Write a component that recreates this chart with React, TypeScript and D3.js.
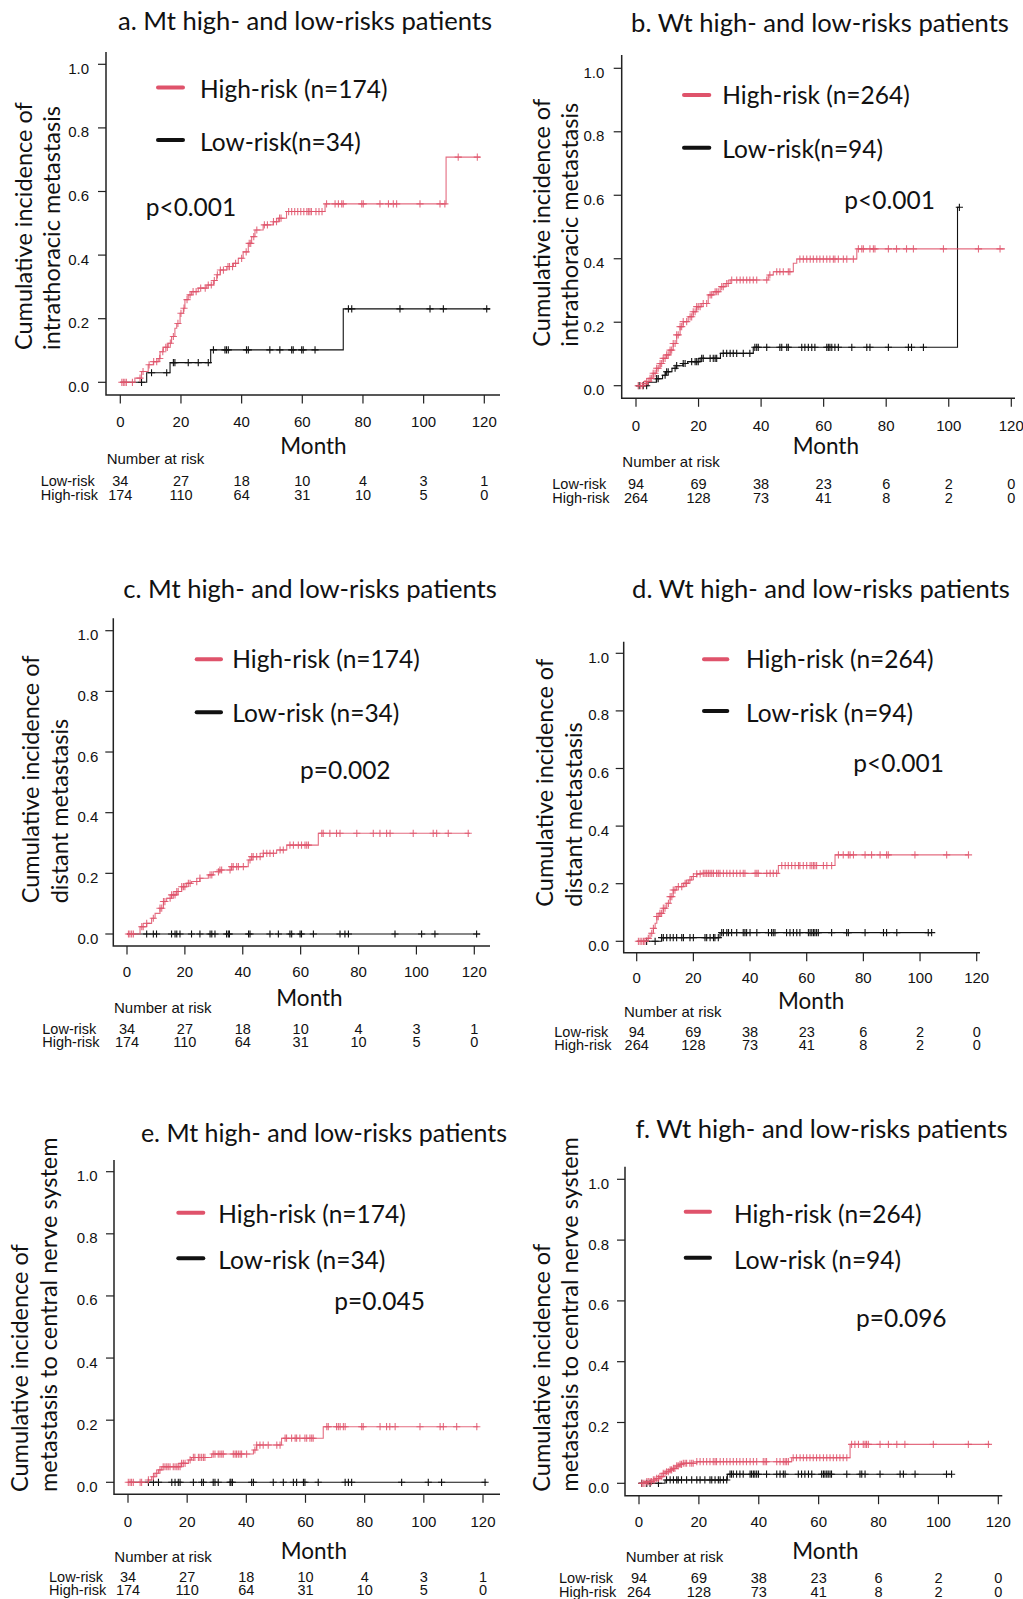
import React from 'react';
import * as d3 from 'd3';

type Step = [number, number];

const RED = '#DF536B';
const xTicks = [0, 20, 40, 60, 80, 100, 120];
const yTicks = [0, 0.2, 0.4, 0.6, 0.8, 1.0];
const riskTimes = [0, 20, 40, 60, 80, 100, 120];
const mtLowAtRisk = [34, 27, 18, 10, 4, 3, 1];
const mtHighAtRisk = [174, 110, 64, 31, 10, 5, 0];
const wtLowAtRisk = [94, 69, 38, 23, 6, 2, 0];
const wtHighAtRisk = [264, 128, 73, 41, 8, 2, 0];

// ---------- Panel a: Mt, intrathoracic ----------
const aHighSteps: Step[] = [[0, 0], [4.8, 0.013], [7.0, 0.034], [9.2, 0.055], [10.9, 0.065], [12.5, 0.075], [13.1, 0.096], [14.2, 0.11], [15.8, 0.123], [16.9, 0.144], [18.0, 0.17], [18.6, 0.185], [19.7, 0.217], [20.8, 0.233], [21.3, 0.26], [22.4, 0.275], [23.5, 0.285], [25.7, 0.296], [28.5, 0.306], [30.7, 0.32], [31.8, 0.338], [32.9, 0.353], [35.1, 0.364], [37.3, 0.374], [38.9, 0.39], [40.5, 0.41], [42.2, 0.437], [43.3, 0.458], [44.4, 0.479], [47.1, 0.495], [50.4, 0.505], [52.1, 0.516], [54.8, 0.537], [67.5, 0.561], [107.4, 0.708]];
const aHighEnd = 118.6;
const aHighCensor = [0.5, 1, 1.5, 2, 4, 6.5, 7.5, 9.5, 11, 12, 13, 14, 15, 15.5, 16.5, 17.5, 19, 20, 21, 22, 23, 24, 25, 26.5, 28, 29, 30, 31, 32, 33, 34, 35.5, 36, 37, 38, 40, 41.5, 42.5, 43, 44, 45, 47.5, 48.5, 50.5, 51.5, 52.5, 53, 55.5, 56.5, 57.5, 58.5, 59.5, 60.5, 61.5, 62, 62.5, 63, 64.5, 65.5, 66.5, 68, 70.8, 71.9, 73, 73.5, 79.6, 80.1, 85.6, 88.4, 90, 91.1, 98.8, 105.4, 107, 111.4, 117.7];
const aLowSteps: Step[] = [[0, 0], [8.7, 0.030], [16.4, 0.062], [29.8, 0.102], [73.5, 0.231]];
const aLowEnd = 121.9;
const aLowCensor = [7.0, 10.3, 15.3, 17.5, 18, 22.4, 25.7, 29, 30.7, 34.5, 35, 35.6, 41.6, 42.2, 49.3, 52.6, 56.5, 57, 59.8, 60.3, 64.2, 75.2, 76.3, 92.2, 102.1, 106.5, 120.8];

// ---------- Panel b: Wt, intrathoracic ----------
const bHighSteps: Step[] = [[0, 0], [2.3, 0.007], [3.4, 0.013], [4.5, 0.023], [5.5, 0.039], [6.6, 0.055], [7.7, 0.07], [8.7, 0.086], [9.8, 0.097], [10.9, 0.112], [11.9, 0.133], [13.0, 0.16], [14.1, 0.186], [15.1, 0.202], [16.7, 0.217], [18.3, 0.233], [19.4, 0.249], [21.0, 0.259], [23.1, 0.286], [24.7, 0.296], [26.9, 0.312], [28.5, 0.322], [30.1, 0.333], [42.3, 0.349], [43.9, 0.359], [50.3, 0.386], [51.4, 0.399], [70.6, 0.431]];
const bHighEnd = 118;
const bHighCensor = [0.7, 1.5, 2.1, 2.9, 3.4, 3.9, 4.5, 5.0, 5.5, 6.1, 6.6, 7.1, 7.7, 8.2, 8.7, 9.3, 9.8, 10.3, 10.9, 11.4, 11.9, 12.5, 13.0, 13.5, 14.1, 14.6, 15.1, 16.2, 17.3, 17.8, 18.3, 18.9, 19.4, 19.9, 20.5, 21.5, 22.6, 23.7, 24.2, 25.3, 25.8, 26.3, 27.4, 27.9, 29.0, 29.5, 30.6, 32.2, 33.3, 34.3, 35.4, 36.4, 37.5, 38.6, 41.8, 42.8, 45.0, 46.0, 47.1, 48.7, 49.2, 52.4, 53.5, 54.6, 55.7, 56.7, 57.8, 58.8, 59.9, 61.0, 62.0, 63.1, 63.6, 64.7, 66.3, 67.4, 69.5, 71.1, 72.2, 72.7, 74.8, 75.9, 76.4, 80.7, 83.3, 86.5, 88.7, 98.3, 109.5, 116.4];
const bLowSteps: Step[] = [[0, 0], [3.9, 0.011], [6.5, 0.022], [8.5, 0.033], [9.5, 0.044], [11.5, 0.055], [13, 0.063], [15, 0.07], [16.5, 0.076], [20.5, 0.086], [27, 0.102], [37.5, 0.121], [102.8, 0.562]];
const bLowEnd = 103.4;
const bLowCensor = [1.0, 2.3, 3.4, 6.6, 7.1, 9.3, 9.8, 10.3, 12.5, 13.0, 15.1, 15.7, 17.8, 18.9, 19.4, 19.9, 21.0, 21.5, 23.7, 24.7, 25.3, 25.8, 27.9, 29.0, 30.1, 31.1, 32.2, 34.3, 36.4, 38.0, 38.6, 39.1, 41.8, 46.0, 46.6, 48.2, 48.7, 53.0, 54.0, 55.1, 56.2, 57.2, 61.0, 61.5, 62.0, 62.6, 63.6, 64.7, 69.0, 73.8, 74.8, 80.7, 87.1, 88.1, 91.9, 103.4];

// ---------- Panel c: Mt, distant ----------
const cHighSteps: Step[] = [[0, 0], [4.5, 0.024], [6.8, 0.035], [8.5, 0.052], [9.7, 0.068], [11.4, 0.085], [12.6, 0.107], [13.7, 0.118], [15.4, 0.129], [17.2, 0.14], [18.9, 0.156], [20.6, 0.167], [22.3, 0.173], [25.2, 0.184], [28.1, 0.195], [29.8, 0.205], [32.1, 0.211], [36.1, 0.222], [41.9, 0.244], [43.1, 0.255], [47.1, 0.266], [51.7, 0.277], [55.2, 0.293], [66.1, 0.332]];
const cHighEnd = 118.5;
const cHighCensor = [0.5, 1.0, 1.6, 2.2, 5.1, 5.6, 6.8, 9.1, 11.4, 12.0, 12.6, 13.1, 14.9, 15.4, 16.0, 16.6, 17.2, 17.7, 18.9, 19.5, 20.0, 21.2, 21.8, 24.1, 25.2, 28.7, 29.3, 31.6, 32.1, 32.7, 35.6, 36.2, 36.7, 37.9, 38.5, 40.2, 42.5, 43.1, 43.6, 44.8, 46.0, 47.1, 48.3, 49.4, 50.6, 52.9, 54.0, 56.3, 57.5, 59.2, 60.3, 61.5, 62.1, 62.7, 67.3, 67.8, 70.1, 72.4, 73.6, 79.4, 85.1, 87.4, 89.7, 90.9, 98.9, 105.8, 107.0, 111.0, 117.9];
const cLowSteps: Step[] = [[0, 0]];
const cLowEnd = 122;
const cLowCensor = [6.8, 9.1, 10.2, 15.4, 16.6, 17.2, 18.3, 22.3, 25.2, 28.7, 29.3, 30.4, 34.4, 35.0, 35.4, 42.0, 42.5, 49.4, 52.3, 56.3, 56.9, 59.8, 60.3, 64.4, 73.6, 75.3, 76.5, 92.6, 101.8, 106.4, 120.8];

// ---------- Panel d: Wt, distant ----------
const dHighSteps: Step[] = [[0, 0], [3.5, 0.01], [4.7, 0.028], [5.9, 0.045], [6.5, 0.0625], [7.1, 0.086], [8.2, 0.097], [9.4, 0.115], [10.6, 0.132], [11.8, 0.155], [12.9, 0.178], [14.1, 0.19], [16.5, 0.201], [18.2, 0.213], [19.4, 0.225], [21.2, 0.234], [22.9, 0.236], [50, 0.263], [70, 0.3]];
const dHighEnd = 117.1;
const dHighCensor = [0.6, 1.2, 1.8, 2.4, 2.9, 4.1, 5.3, 5.9, 7.1, 7.6, 8.2, 8.8, 9.4, 10.0, 11.2, 11.8, 12.4, 12.9, 13.5, 14.7, 15.9, 17.1, 17.6, 18.8, 20.0, 21.2, 22.4, 23.5, 24.1, 24.7, 25.3, 25.9, 26.5, 27.1, 28.2, 28.8, 29.4, 30.6, 31.8, 32.9, 34.1, 35.3, 36.5, 37.6, 38.2, 41.8, 42.4, 42.9, 45.9, 47.1, 48.2, 49.4, 51.2, 52.4, 53.5, 54.7, 55.9, 57.1, 57.6, 58.8, 60.0, 61.2, 61.8, 62.4, 62.9, 63.5, 65.9, 67.1, 68.8, 71.2, 72.9, 74.7, 75.3, 76.5, 80.6, 82.9, 85.9, 88.2, 88.8, 98.2, 109.4, 117.1];
const dLowSteps: Step[] = [[0, 0], [8.8, 0.0127], [29.4, 0.030]];
const dLowEnd = 104.1;
const dLowCensor = [3.5, 6.5, 8.8, 9.4, 10.6, 11.8, 12.9, 14.1, 15.9, 16.5, 18.8, 20.0, 24.1, 24.7, 25.9, 27.1, 27.6, 28.8, 30.0, 30.6, 31.8, 32.4, 33.5, 35.3, 37.6, 38.2, 38.8, 40.0, 42.4, 46.5, 47.6, 48.2, 48.8, 52.9, 54.1, 55.3, 56.5, 57.6, 60.6, 61.2, 61.8, 62.4, 62.9, 63.5, 64.1, 68.8, 74.1, 74.7, 80.6, 87.1, 88.2, 91.8, 102.9, 104.1];

// ---------- Panel e: Mt, CNS ----------
const eHighSteps: Step[] = [[0, 0], [6.9, 0.0075], [8, 0.018], [9.1, 0.029], [10.3, 0.04], [11.4, 0.05], [18.1, 0.061], [20.4, 0.072], [21.5, 0.08], [28.3, 0.091], [42.4, 0.104], [43.5, 0.12], [51.9, 0.142], [66, 0.179]];
const eHighEnd = 118.4;
const eHighCensor = [0.1, 0.7, 1.2, 1.8, 4.1, 4.6, 6.9, 8.6, 9.7, 10.8, 11.9, 12.5, 13.1, 13.6, 14.2, 15.3, 15.9, 16.5, 17.0, 17.6, 18.1, 18.7, 19.3, 21.0, 22.1, 22.6, 23.8, 24.3, 24.9, 25.5, 26.0, 28.8, 29.4, 30.5, 31.1, 31.7, 32.2, 35.6, 36.2, 36.7, 37.3, 37.9, 38.4, 40.1, 42.9, 43.5, 44.6, 45.7, 47.4, 50.3, 51.4, 53.1, 53.6, 55.3, 56.5, 57.0, 58.1, 59.8, 60.4, 61.5, 62.1, 62.6, 67.2, 67.7, 70.5, 71.1, 71.7, 72.8, 73.4, 79.0, 79.5, 85.2, 87.4, 88.5, 90.3, 98.7, 105.5, 106.6, 111.1, 117.9];
const eLowSteps: Step[] = [[0, 0]];
const eLowEnd = 121.2;
const eLowCensor = [6.9, 8.6, 10.3, 14.8, 15.9, 17.0, 17.6, 22.1, 24.9, 25.5, 28.8, 29.4, 30.5, 34.5, 34.8, 35.3, 41.8, 42.4, 49.1, 52.5, 55.9, 57.0, 59.3, 59.8, 64.3, 73.4, 74.5, 75.6, 92.5, 101.5, 106.0, 120.7];

// ---------- Panel f: Wt, CNS ----------
const fHighSteps: Step[] = [[0, 0], [2.6, 0.0055], [4.8, 0.011], [5.9, 0.016], [7.0, 0.022], [8.1, 0.033], [9.2, 0.038], [10.4, 0.044], [11.5, 0.049], [12.6, 0.057], [13.7, 0.0625], [14.8, 0.066], [19.3, 0.071], [51, 0.084], [70.5, 0.128]];
const fHighEnd = 117.2;
const fHighCensor = [0.9, 1.4, 2.0, 2.6, 3.1, 3.7, 4.2, 4.8, 5.3, 5.9, 6.5, 7.0, 7.6, 8.1, 8.7, 9.2, 9.8, 10.4, 10.9, 11.5, 12.0, 12.6, 13.1, 13.7, 14.2, 14.8, 15.4, 15.9, 17.0, 17.6, 18.1, 19.3, 20.4, 21.5, 22.6, 23.7, 24.8, 25.4, 25.9, 27.1, 28.2, 29.3, 30.4, 31.5, 32.6, 33.7, 34.8, 35.9, 37.1, 38.2, 39.3, 41.5, 42.1, 42.6, 46.0, 47.1, 48.2, 48.8, 49.3, 49.9, 51.5, 52.6, 53.8, 54.9, 56.0, 57.1, 58.2, 59.3, 60.4, 61.6, 62.7, 63.8, 64.9, 66.0, 67.1, 68.2, 69.4, 71.0, 72.1, 73.3, 74.9, 75.5, 76.0, 76.6, 80.5, 83.3, 86.1, 88.8, 98.3, 110.0, 116.7];
const fLowSteps: Step[] = [[0, 0], [8.7, 0.011], [29.5, 0.03]];
const fLowEnd = 104.4;
const fLowCensor = [0.9, 2.6, 3.7, 6.5, 9.2, 10.4, 11.5, 12.6, 13.1, 14.2, 15.9, 17.6, 19.3, 20.4, 22.0, 23.7, 24.3, 25.4, 26.5, 27.1, 28.2, 29.3, 30.4, 30.9, 31.5, 32.6, 33.7, 34.8, 37.1, 37.6, 38.2, 38.7, 39.3, 39.9, 42.6, 46.0, 47.1, 48.2, 48.8, 53.2, 54.3, 55.4, 56.6, 57.7, 61.0, 61.6, 62.1, 62.7, 63.2, 63.8, 64.3, 69.4, 73.8, 74.4, 75.5, 80.5, 87.2, 88.3, 92.2, 102.7, 104.4];

// ---------- Layouts (positions only) ----------
const HEAD = 'Lato, "Noto Sans", sans-serif';
const AX = '"Liberation Sans", Arial, sans-serif';

const layouts = [
  { title: 'a. Mt high- and low-risks patients', titleX: 305, titleY: 29.5, titleSize: 25.6,
    axisX: 106, axisTop: 52, axisY: 395, axisRight: 500, x0: 120.3, x120: 484.3, y0: 382.3, y1: 64.3,
    yLabRight: 89, xLabY: 427.3, ylab: ['Cumulative incidence of', 'intrathoracic metastasis'], ylabX: [31.7, 60], ylabBottom: 350,
    monthX: 313.5, monthY: 454, narX: 106.7, narY: 464.3, rowLabelX: 40.7, lowY: 486.4, highY: 499.7,
    legX1: 158, legX2: 183, legTextX: 200, legRedY: 87.5, legRedText: 97.5, legBlackY: 140, legBlackText: 151,
    highLabel: 'High-risk (n=174)', lowLabel: 'Low-risk(n=34)', pText: 'p<0.001', pX: 145.7, pY: 215.7 },
  { title: 'b. Wt high- and low-risks patients', titleX: 820, titleY: 31.5, titleSize: 25.6,
    axisX: 621.7, axisTop: 55, axisY: 398.3, axisRight: 1015, x0: 636, x120: 1011.3, y0: 385.7, y1: 68.3,
    yLabRight: 604.3, xLabY: 430.7, ylab: ['Cumulative incidence of', 'intrathoracic metastasis'], ylabX: [550, 578], ylabBottom: 346.7,
    monthX: 825.8, monthY: 454, narX: 622.3, narY: 467.3, rowLabelX: 552.3, lowY: 489.3, highY: 502.5,
    legX1: 684, legX2: 709.3, legTextX: 722.3, legRedY: 95, legRedText: 104, legBlackY: 147.7, legBlackText: 157.7,
    highLabel: 'High-risk (n=264)', lowLabel: 'Low-risk(n=94)', pText: 'p<0.001', pX: 844.3, pY: 209.3 },
  { title: 'c. Mt high- and low-risks patients', titleX: 310, titleY: 597.5, titleSize: 25.6,
    axisX: 113.3, axisTop: 618.3, axisY: 946, axisRight: 490, x0: 127, x120: 474.3, y0: 934, y1: 630.7,
    yLabRight: 98.3, xLabY: 977.3, ylab: ['Cumulative incidence of', 'distant metastasis'], ylabX: [39.3, 68.3], ylabBottom: 903.3,
    monthX: 309.5, monthY: 1006, narX: 114, narY: 1012.7, rowLabelX: 42.3, lowY: 1034, highY: 1047.3,
    legX1: 196.7, legX2: 221, legTextX: 232.3, legRedY: 659.3, legRedText: 668.3, legBlackY: 712.3, legBlackText: 721.7,
    highLabel: 'High-risk (n=174)', lowLabel: 'Low-risk (n=34)', pText: 'p=0.002', pX: 300, pY: 779.3 },
  { title: 'd. Wt high- and low-risks patients', titleX: 821, titleY: 597.5, titleSize: 25.6,
    axisX: 623.7, axisTop: 641.7, axisY: 952.7, axisRight: 980, x0: 636.7, x120: 976.7, y0: 941.3, y1: 653.3,
    yLabRight: 609, xLabY: 983.3, ylab: ['Cumulative incidence of', 'distant metastasis'], ylabX: [552.7, 581.7], ylabBottom: 906.7,
    monthX: 811.2, monthY: 1009.3, narX: 624, narY: 1016.7, rowLabelX: 554.3, lowY: 1036.7, highY: 1050,
    legX1: 704, legX2: 727.3, legTextX: 746, legRedY: 659.3, legRedText: 668.3, legBlackY: 711, legBlackText: 721.7,
    highLabel: 'High-risk (n=264)', lowLabel: 'Low-risk (n=94)', pText: 'p<0.001', pX: 853.3, pY: 772.3 },
  { title: 'e. Mt high- and low-risks patients', titleX: 324, titleY: 1142, titleSize: 25,
    axisX: 114, axisTop: 1160, axisY: 1494.3, axisRight: 500, x0: 128, x120: 483, y0: 1482.3, y1: 1171.7,
    yLabRight: 97.7, xLabY: 1526.7, ylab: ['Cumulative incidence of', 'metastasis to central nerve system'], ylabX: [28.3, 57], ylabBottom: 1492,
    monthX: 313.8, monthY: 1559, narX: 114.3, narY: 1562.3, rowLabelX: 49, lowY: 1581.7, highY: 1595,
    legX1: 178.3, legX2: 203.3, legTextX: 218.3, legRedY: 1212.7, legRedText: 1222.7, legBlackY: 1258.3, legBlackText: 1269.3,
    highLabel: 'High-risk (n=174)', lowLabel: 'Low-risk (n=34)', pText: 'p=0.045', pX: 334.3, pY: 1310 },
  { title: 'f. Wt high- and low-risks patients', titleX: 821.5, titleY: 1138, titleSize: 25.6,
    axisX: 625, axisTop: 1166.7, axisY: 1495.7, axisRight: 1002.3, x0: 639, x120: 998.3, y0: 1483.3, y1: 1179.3,
    yLabRight: 609, xLabY: 1527.3, ylab: ['Cumulative incidence of', 'metastasis to central nerve system'], ylabX: [550, 578.3], ylabBottom: 1491.7,
    monthX: 825.5, monthY: 1559.3, narX: 625.7, narY: 1562.3, rowLabelX: 559, lowY: 1583.3, highY: 1596.7,
    legX1: 685.7, legX2: 710, legTextX: 734, legRedY: 1211.7, legRedText: 1223.3, legBlackY: 1257.7, legBlackText: 1269.3,
    highLabel: 'High-risk (n=264)', lowLabel: 'Low-risk (n=94)', pText: 'p=0.096', pX: 856, pY: 1327.3 },
];

const panelData = [
  { highSteps: aHighSteps, highEnd: aHighEnd, highCensor: aHighCensor, lowSteps: aLowSteps, lowEnd: aLowEnd, lowCensor: aLowCensor, lowRisk: mtLowAtRisk, highRisk: mtHighAtRisk },
  { highSteps: bHighSteps, highEnd: bHighEnd, highCensor: bHighCensor, lowSteps: bLowSteps, lowEnd: bLowEnd, lowCensor: bLowCensor, lowRisk: wtLowAtRisk, highRisk: wtHighAtRisk },
  { highSteps: cHighSteps, highEnd: cHighEnd, highCensor: cHighCensor, lowSteps: cLowSteps, lowEnd: cLowEnd, lowCensor: cLowCensor, lowRisk: mtLowAtRisk, highRisk: mtHighAtRisk },
  { highSteps: dHighSteps, highEnd: dHighEnd, highCensor: dHighCensor, lowSteps: dLowSteps, lowEnd: dLowEnd, lowCensor: dLowCensor, lowRisk: wtLowAtRisk, highRisk: wtHighAtRisk },
  { highSteps: eHighSteps, highEnd: eHighEnd, highCensor: eHighCensor, lowSteps: eLowSteps, lowEnd: eLowEnd, lowCensor: eLowCensor, lowRisk: mtLowAtRisk, highRisk: mtHighAtRisk },
  { highSteps: fHighSteps, highEnd: fHighEnd, highCensor: fHighCensor, lowSteps: fLowSteps, lowEnd: fLowEnd, lowCensor: fLowCensor, lowRisk: wtLowAtRisk, highRisk: wtHighAtRisk },
];

function valueAt(steps: Step[], t: number): number {
  const i = d3.bisector((d: Step) => d[0]).right(steps, t) - 1;
  return steps[Math.max(0, i)][1];
}

const fmt = d3.format('.1f');

function Panel({ L, D }: { L: any; D: any }) {
  const x = d3.scaleLinear().domain([0, 120]).range([L.x0, L.x120]);
  const y = d3.scaleLinear().domain([0, 1]).range([L.y0, L.y1]);
  const line = d3.line<Step>().x((d) => x(d[0])).y((d) => y(d[1])).curve(d3.curveStepAfter);
  const curves = [
    { steps: D.lowSteps as Step[], end: D.lowEnd, censor: D.lowCensor as number[], color: '#111', op: 1, w: 1.1 },
    { steps: D.highSteps as Step[], end: D.highEnd, censor: D.highCensor as number[], color: RED, op: 0.85, w: 1.1 },
  ];
  const cs = 3.6;
  return (
    <g>
      <text x={L.titleX} y={L.titleY} textAnchor="middle" fontFamily={HEAD} fontSize={L.titleSize} fill="#111">{L.title}</text>
      {/* axes */}
      <path d={`M${L.axisX},${L.axisTop}V${L.axisY}H${L.axisRight}`} fill="none" stroke="#222" strokeWidth={1.5} />
      {yTicks.map((t) => (
        <g key={'y' + t}>
          <line x1={L.axisX - 8} x2={L.axisX} y1={y(t)} y2={y(t)} stroke="#222" strokeWidth={1.2} />
          <text x={L.yLabRight} y={y(t) + 9.5} textAnchor="end" fontFamily={AX} fontSize={15} fill="#111">{fmt(t)}</text>
        </g>
      ))}
      {xTicks.map((t) => (
        <g key={'x' + t}>
          <line x1={x(t)} x2={x(t)} y1={L.axisY} y2={L.axisY + 8.5} stroke="#222" strokeWidth={1.2} />
          <text x={x(t)} y={L.xLabY} textAnchor="middle" fontFamily={AX} fontSize={15} fill="#111">{t}</text>
        </g>
      ))}
      {/* y label */}
      {L.ylab.map((s: string, i: number) => (
        <text key={'yl' + i} transform={`translate(${L.ylabX[i]},${L.ylabBottom}) rotate(-90)`} textAnchor="start" fontFamily={HEAD} fontSize={23.5} fill="#111">{s}</text>
      ))}
      <text x={L.monthX} y={L.monthY} textAnchor="middle" fontFamily={HEAD} fontSize={22.5} fill="#111">Month</text>
      {/* curves */}
      {curves.map((c, ci) => {
        const pts: Step[] = [...c.steps, [c.end, c.steps[c.steps.length - 1][1]]];
        return (
          <g key={'c' + ci} stroke={c.color} strokeOpacity={c.op} fill="none">
            <path d={line(pts) || ''} strokeWidth={c.w} />
            {c.censor.map((t, k) => {
              const cx = x(t);
              const cy = y(valueAt(c.steps, t));
              return <path key={k} d={`M${cx - cs},${cy}H${cx + cs}M${cx},${cy - cs}V${cy + cs}`} strokeWidth={1.1} />;
            })}
          </g>
        );
      })}
      {/* legend */}
      <line x1={L.legX1} x2={L.legX2} y1={L.legRedY} y2={L.legRedY} stroke={RED} strokeWidth={4} strokeLinecap="round" />
      <text x={L.legTextX} y={L.legRedText} fontFamily={HEAD} fontSize={24.5} fill="#111">{L.highLabel}</text>
      <line x1={L.legX1} x2={L.legX2} y1={L.legBlackY} y2={L.legBlackY} stroke="#111" strokeWidth={4} strokeLinecap="round" />
      <text x={L.legTextX} y={L.legBlackText} fontFamily={HEAD} fontSize={24.5} fill="#111">{L.lowLabel}</text>
      <text x={L.pX} y={L.pY} fontFamily={HEAD} fontSize={24.5} fill="#111">{L.pText}</text>
      {/* number at risk */}
      <text x={L.narX} y={L.narY} fontFamily={AX} fontSize={15} fill="#111">Number at risk</text>
      <text x={L.rowLabelX} y={L.lowY} fontFamily={AX} fontSize={14.5} fill="#111">Low-risk</text>
      <text x={L.rowLabelX} y={L.highY} fontFamily={AX} fontSize={14.5} fill="#111">High-risk</text>
      {riskTimes.map((t, i) => (
        <g key={'r' + t}>
          <text x={x(t)} y={L.lowY} textAnchor="middle" fontFamily={AX} fontSize={14.5} fill="#111">{D.lowRisk[i]}</text>
          <text x={x(t)} y={L.highY} textAnchor="middle" fontFamily={AX} fontSize={14.5} fill="#111">{D.highRisk[i]}</text>
        </g>
      ))}
    </g>
  );
}

export default function App() {
  return (
    <svg width={1023} height={1599} viewBox="0 0 1023 1599" style={{ position: 'absolute', left: 0, top: 0, background: '#fff' }}>
      <rect x={0} y={0} width={1023} height={1599} fill="#fff" />
      {layouts.map((L, i) => (
        <Panel key={i} L={L} D={panelData[i]} />
      ))}
    </svg>
  );
}
